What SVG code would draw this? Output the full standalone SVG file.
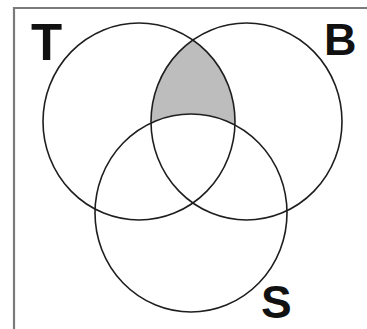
<svg xmlns="http://www.w3.org/2000/svg" width="367" height="329" viewBox="0 0 367 329">
<style>
.c{fill:none;stroke:#1e1e1e;stroke-width:1.6}
.lbl{font-family:"Liberation Sans",Arial,sans-serif;font-weight:bold;fill:#111}
.frame{fill:none;stroke:#7a7a7a;stroke-width:2.2}
</style>
<defs>
<clipPath id="clipB"><ellipse cx="246.5" cy="121.5" rx="95.5" ry="98.5"/></clipPath>
</defs>
<rect width="367" height="329" fill="#fff"/>
<path class="frame" d="M14,329 V8 H367"/>
<g id="shade">
<ellipse cx="139" cy="121.5" rx="96" ry="98.5" fill="#bdbdbd" clip-path="url(#clipB)"/>
<ellipse cx="191" cy="213" rx="96" ry="99" fill="#fff"/>
</g>
<g id="T">
<ellipse class="c" cx="139" cy="121.5" rx="96" ry="98.5"/>
<text class="lbl" x="31" y="60" font-size="51">T</text>
</g>
<g id="B">
<ellipse class="c" cx="246.5" cy="121.5" rx="95.5" ry="98.5"/>
<text class="lbl" x="324" y="55" font-size="45">B</text>
</g>
<g id="S">
<ellipse class="c" cx="191" cy="213" rx="96" ry="99"/>
<text class="lbl" x="261" y="318" font-size="46">S</text>
</g>
</svg>
